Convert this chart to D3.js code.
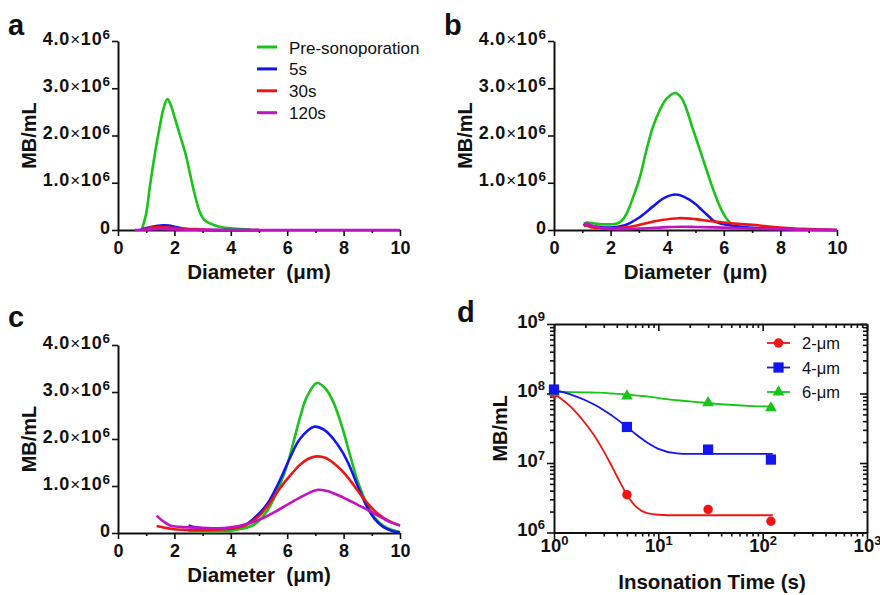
<!DOCTYPE html>
<html><head><meta charset="utf-8">
<script src="https://cdn.jsdelivr.net/npm/d3@7"></script>
<style>
body{margin:0;background:#fff;}
text{font-family:"Liberation Sans",Arial,Helvetica,sans-serif;}
</style></head><body>
<svg id="chart" width="880" height="595"></svg>
<script>
// ---------- DATA (MB/mL in units of 10^6 for panels a-c) ----------
const seriesNames = ["Pre-sonoporation", "5s", "30s", "120s"];
const yTicksDist = [0, 1, 2, 3, 4];
const xMajorTicks = [0, 2, 4, 6, 8, 10];
const xMinorTicks = [1, 3, 5, 7, 9];

// Panel a (2-µm)
const aPre = [[0.84,0],[1.0,0.35],[1.13,0.92],[1.25,1.4],[1.37,1.83],[1.5,2.25],[1.6,2.54],[1.75,2.77],[1.9,2.6],[2.0,2.4],[2.2,2.0],[2.4,1.6],[2.55,1.2],[2.7,0.8],[2.9,0.38],[3.05,0.22],[3.26,0.14],[3.6,0.07],[4.1,0.03],[4.7,0.01]];
const a5s = [[0.8,0],[1.0,0.04],[1.2,0.07],[1.4,0.09],[1.6,0.1],[1.8,0.095],[2.0,0.07],[2.3,0.03],[2.6,0.01],[3.0,0.0],[5.0,0.0]];
const a30s = [[0.9,0.0],[1.1,0.04],[1.3,0.06],[1.5,0.06],[1.8,0.05],[2.2,0.03],[2.6,0.02],[2.9,0.015],[3.2,0.0],[5.0,0.0]];
const a120s = [[0.6,0],[1.0,0.01],[1.5,0.02],[2.0,0.01],[3.0,0.005],[4.0,0.0],[10,0]];

// Panel b (4-µm)
const bPre = [[1.05,0.14],[1.2,0.16],[1.5,0.13],[2.0,0.12],[2.2,0.13],[2.4,0.2],[2.57,0.35],[2.8,0.7],[3.04,1.13],[3.25,1.65],[3.5,2.19],[3.75,2.55],[3.98,2.78],[4.28,2.9],[4.5,2.8],[4.69,2.54],[4.9,2.15],[5.16,1.69],[5.4,1.25],[5.63,0.85],[5.8,0.58],[5.98,0.35],[6.15,0.2],[6.3,0.12]];
const b5s = [[1.05,0.1],[1.2,0.1],[1.5,0.07],[2.0,0.05],[2.5,0.1],[3.0,0.26],[3.5,0.5],[3.9,0.68],[4.3,0.75],[4.6,0.7],[5.0,0.55],[5.16,0.46],[5.5,0.27],[5.63,0.2],[6.0,0.12],[6.6,0.07],[7.2,0.04],[8.0,0.02],[9.0,0.01],[10,0]];
const b30s = [[1.05,0.08],[1.15,0.1],[1.3,0.06],[1.7,0.04],[2.2,0.04],[2.8,0.08],[3.3,0.15],[3.8,0.21],[4.4,0.25],[5.0,0.23],[5.5,0.19],[6.0,0.16],[6.5,0.13],[7.0,0.11],[7.5,0.08],[8.0,0.05],[8.5,0.03],[9.0,0.02],[10,0]];
const b120s = [[1.05,0.1],[1.15,0.14],[1.3,0.1],[1.6,0.05],[2.0,0.02],[3.0,0.03],[4.0,0.06],[4.5,0.07],[5.0,0.065],[6.0,0.05],[7.0,0.03],[8.0,0.015],[9.0,0.005],[10,0]];

// Panel c (6-µm)
const cPre = [[2.5,0.05],[3.0,0.04],[3.5,0.04],[4.0,0.05],[4.4,0.09],[4.8,0.17],[5.0,0.26],[5.27,0.45],[5.5,0.7],[5.74,1.02],[6.0,1.45],[6.25,2.0],[6.45,2.45],[6.7,2.9],[7.05,3.19],[7.35,3.08],[7.64,2.78],[7.95,2.25],[8.23,1.65],[8.5,1.1],[8.82,0.62],[9.1,0.33],[9.4,0.16],[9.7,0.07],[10,0.02]];
const c5s = [[2.5,0.16],[2.6,0.14],[3.0,0.1],[3.5,0.09],[4.0,0.1],[4.5,0.17],[4.8,0.3],[5.27,0.6],[5.74,1.12],[6.1,1.6],[6.45,2.0],[6.95,2.26],[7.3,2.2],[7.64,2.0],[7.95,1.73],[8.23,1.4],[8.5,1.0],[8.82,0.57],[9.1,0.3],[9.4,0.13],[9.7,0.05],[10,0.01]];
const c30s = [[1.37,0.15],[1.6,0.12],[2.0,0.08],[2.5,0.06],[3.0,0.06],[3.5,0.07],[4.0,0.09],[4.5,0.16],[5.0,0.36],[5.27,0.55],[5.74,0.95],[6.1,1.22],[6.45,1.45],[6.75,1.58],[7.05,1.63],[7.35,1.6],[7.64,1.49],[7.95,1.32],[8.23,1.12],[8.5,0.9],[8.82,0.65],[9.1,0.47],[9.4,0.33],[9.7,0.23],[10,0.16]];
const c120s = [[1.37,0.37],[1.6,0.25],[1.85,0.16],[2.2,0.13],[3.0,0.11],[3.5,0.1],[4.0,0.12],[4.5,0.18],[5.0,0.28],[5.5,0.43],[6.0,0.6],[6.5,0.77],[7.1,0.92],[7.5,0.88],[8.0,0.75],[8.5,0.6],[8.8,0.51],[9.1,0.41],[9.4,0.31],[9.7,0.22],[10,0.16]];

// Panel d
const dNames = ["2-\u03bcm", "4-\u03bcm", "6-\u03bcm"];
const dTimes = [1, 5, 30, 120];
const d2um = [1.0e8, 3.5e6, 2.15e6, 1.45e6];
const d4um = [1.14e8, 3.3e7, 1.56e7, 1.12e7];
const d6um = [1.05e8, 9.2e7, 7.35e7, 6.2e7];
const fitTimes = [1, 1.5, 2, 2.5, 3, 3.5, 4, 5, 6, 7, 8, 10, 15, 20, 40, 80, 125];
const fit2um = [1.0e8, 6.1e7, 3.7e7, 2.33e7, 1.47e7, 9.6e6, 6.5e6, 3.5e6, 2.42e6, 2.03e6, 1.88e6, 1.8e6, 1.77e6, 1.77e6, 1.77e6, 1.77e6, 1.77e6];
const fit4um = [1.13e8, 9.5e7, 8.0e7, 6.76e7, 5.76e7, 4.95e7, 4.28e7, 3.3e7, 2.64e7, 2.21e7, 1.92e7, 1.6e7, 1.38e7, 1.354e7, 1.35e7, 1.35e7, 1.35e7];
const fit6um = [1.06e8, 1.05e8, 1.04e8, 1.03e8, 1.02e8, 1.0e8, 9.9e7, 9.7e7, 9.4e7, 9.2e7, 9.0e7, 8.6e7, 8.0e7, 7.7e7, 7.0e7, 6.6e7, 6.5e7];
const dYTicks = [1e6, 1e7, 1e8, 1e9];
const dXTicks = [1, 10, 100, 1000];

// ---------- STYLE ----------
const colGreen = "#17c417", colBlue = "#1414f0", colRed = "#f01414", colMag = "#c014c0";
const distColors = [colGreen, colBlue, colRed, colMag];

const svg = d3.select("#chart");

function supLabel(sel, base, exp, baseSize, supSize, supRaise) {
  sel.text(null);
  sel.append("tspan").attr("font-size", baseSize).text(base);
  sel.append("tspan").attr("font-size", supSize).attr("dy", -supRaise).text(exp);
}

function drawDist(box, series, letter, showLegend) {
  const g = svg.append("g");
  const x = d3.scaleLinear().domain([0, 10]).range([box.left, box.right]);
  const y = d3.scaleLinear().domain([0, 4]).range([box.bottom, box.top]);

  const xa = g.append("g").attr("transform", `translate(0,${box.bottom})`)
    .call(d3.axisBottom(x).tickValues(xMajorTicks).tickSize(6).tickPadding(5).tickSizeOuter(0));
  xa.selectAll("text").attr("font-size", 18).attr("font-weight", "bold").attr("fill", "#111");
  const xm = g.append("g").attr("transform", `translate(0,${box.bottom})`)
    .call(d3.axisBottom(x).tickValues(xMinorTicks).tickSize(3).tickFormat("").tickSizeOuter(0));
  xm.select(".domain").remove();

  const ya = g.append("g").attr("transform", `translate(${box.left},0)`)
    .call(d3.axisLeft(y).tickValues(yTicksDist).tickSize(6).tickPadding(2).tickSizeOuter(0));
  ya.selectAll("text").attr("font-weight", "bold").attr("fill", "#111").each(function(d) {
    const t = d3.select(this);
    t.text(null);
    if (d === 0) { t.append("tspan").attr("font-size", 18).text("0"); return; }
    t.append("tspan").attr("font-size", 18).attr("letter-spacing", 0.8).text(d.toFixed(1));
    t.append("tspan").attr("font-size", 17).attr("font-weight", "normal").attr("letter-spacing", 0.8).text("\u00d7");
    t.append("tspan").attr("font-size", 18).attr("letter-spacing", 0.8).text("10");
    t.append("tspan").attr("font-size", 13.5).attr("dy", -5.5).text("6");
  });
  g.selectAll(".domain").attr("stroke-width", 2).attr("stroke", "#111");
  g.selectAll(".tick line").attr("stroke-width", 1.6).attr("stroke", "#111");

  const line = d3.line().x(d => x(d[0])).y(d => y(d[1])).curve(d3.curveCatmullRom.alpha(0.5));
  series.forEach((s, i) => {
    g.append("path").attr("d", line(s)).attr("fill", "none")
      .attr("stroke", distColors[i]).attr("stroke-width", 2.6).attr("stroke-linejoin", "round");
  });

  g.append("text").attr("x", (box.left + box.right) / 2).attr("y", box.bottom + 49)
    .attr("text-anchor", "middle").attr("font-size", 20.5).attr("font-weight", "bold")
    .attr("fill", "#111").style("white-space", "pre").text("Diameter  (\u03bcm)");
  g.append("text").attr("transform", `translate(${box.left - 89},${(box.top + box.bottom) / 2}) rotate(-90)`)
    .attr("text-anchor", "middle").attr("dy", "0.36em").attr("font-size", 20).attr("font-weight", "bold")
    .attr("fill", "#111").text("MB/mL");
  g.append("text").attr("x", box.left - 110).attr("y", box.letterY).attr("font-size", 29)
    .attr("font-weight", "bold").attr("fill", "#111").text(letter);

  if (showLegend) {
    const lg = g.append("g");
    seriesNames.forEach((n, i) => {
      const yy = 47 + i * 21.9;
      lg.append("line").attr("x1", 257).attr("x2", 277).attr("y1", yy).attr("y2", yy)
        .attr("stroke", distColors[i]).attr("stroke-width", 3);
      lg.append("text").attr("x", 289).attr("y", yy + 6.5).attr("font-size", 17).attr("fill", "#111").text(n);
    });
  }
}

drawDist({left:118, right:400, top:41, bottom:230, letterY:35}, [aPre, a5s, a30s, a120s], "a", true);
drawDist({left:554, right:837, top:41, bottom:230, letterY:35}, [bPre, b5s, b30s, b120s], "b", false);
drawDist({left:118, right:400, top:345, bottom:533, letterY:327}, [cPre, c5s, c30s, c120s], "c", false);

// ---------- Panel d ----------
(function() {
  const box = {left:554, right:867, top:324, bottom:532.5};
  const g = svg.append("g");
  const x = d3.scaleLog().domain([1, 1000]).range([box.left, box.right]);
  const y = d3.scaleLog().domain([1e6, 1e9]).range([box.bottom, box.top]);
  const minorX = [], minorY = [];
  [1, 10, 100].forEach(p => { for (let k = 2; k <= 9; k++) minorX.push(p * k); });
  [1e6, 1e7, 1e8].forEach(p => { for (let k = 2; k <= 9; k++) minorY.push(p * k); });

  const ax = (axisFn, scale, vals, size, tf) => axisFn(scale).tickValues(vals).tickSize(size).tickSizeOuter(0).tickFormat(tf === undefined ? "" : tf);

  const xb = g.append("g").attr("transform", `translate(0,${box.bottom})`).call(ax(d3.axisBottom, x, dXTicks, 7, d => d).tickPadding(5));
  xb.selectAll("text").attr("font-weight", "bold").attr("fill", "#111").each(function(d) {
    supLabel(d3.select(this), "10", String(Math.round(Math.log10(d))), 18.5, 13, 7);
  });
  g.append("g").attr("transform", `translate(0,${box.bottom})`).call(ax(d3.axisBottom, x, minorX, 4)).select(".domain").remove();
  g.append("g").attr("transform", `translate(0,${box.top})`).call(ax(d3.axisBottom, x, dXTicks, 7));
  g.append("g").attr("transform", `translate(0,${box.top})`).call(ax(d3.axisBottom, x, minorX, 4)).select(".domain").remove();
  const yl = g.append("g").attr("transform", `translate(${box.left},0)`).call(ax(d3.axisLeft, y, dYTicks, 7, d => d).tickPadding(2));
  yl.selectAll("text").attr("font-weight", "bold").attr("fill", "#111").each(function(d) {
    supLabel(d3.select(this), "10", String(Math.round(Math.log10(d))), 18.5, 13, 7);
  });
  g.append("g").attr("transform", `translate(${box.left},0)`).call(ax(d3.axisLeft, y, minorY, 4)).select(".domain").remove();
  g.append("g").attr("transform", `translate(${box.right},0)`).call(ax(d3.axisLeft, y, dYTicks, 7));
  g.append("g").attr("transform", `translate(${box.right},0)`).call(ax(d3.axisLeft, y, minorY, 4)).select(".domain").remove();

  g.selectAll(".domain").attr("stroke-width", 2).attr("stroke", "#111");
  g.selectAll(".tick line").attr("stroke-width", 1.6).attr("stroke", "#111");

  const line = d3.line().x(d => x(d[0])).y(d => y(d[1])).curve(d3.curveMonotoneX);
  const sets = [
    {fit: fit2um, pts: d2um, col: colRed, sym: d3.symbolCircle, size: 70},
    {fit: fit6um, pts: d6um, col: colGreen, sym: d3.symbolTriangle, size: 60},
    {fit: fit4um, pts: d4um, col: colBlue, sym: d3.symbolSquare, size: 105}
  ];
  sets.forEach(s => {
    g.append("path").attr("d", line(fitTimes.map((t, i) => [t, s.fit[i]])))
      .attr("fill", "none").attr("stroke", s.col).attr("stroke-width", 1.8);
    g.selectAll(null).data(dTimes.map((t, i) => [t, s.pts[i]])).enter().append("path")
      .attr("d", d3.symbol().type(s.sym).size(s.size))
      .attr("transform", d => `translate(${x(d[0])},${y(d[1])})`).attr("fill", s.col);
  });

  const legCols = [colRed, colBlue, colGreen];
  const legSyms = [[d3.symbolCircle, 70], [d3.symbolSquare, 105], [d3.symbolTriangle, 60]];
  dNames.forEach((n, i) => {
    const yy = 343 + i * 24.5;
    g.append("line").attr("x1", 767).attr("x2", 790).attr("y1", yy).attr("y2", yy).attr("stroke", legCols[i]).attr("stroke-width", 1.8);
    g.append("path").attr("d", d3.symbol().type(legSyms[i][0]).size(legSyms[i][1])).attr("transform", `translate(778.5,${yy})`).attr("fill", legCols[i]);
    g.append("text").attr("x", 802).attr("y", yy + 6).attr("font-size", 16.5).attr("fill", "#111").text(n);
  });

  g.append("text").attr("x", 712).attr("y", 589).attr("text-anchor", "middle").attr("font-size", 20.5)
    .attr("font-weight", "bold").attr("fill", "#111").text("Insonation Time (s)");
  g.append("text").attr("transform", `translate(500,${(box.top + box.bottom) / 2}) rotate(-90)`)
    .attr("text-anchor", "middle").attr("dy", "0.36em").attr("font-size", 20).attr("font-weight", "bold")
    .attr("fill", "#111").text("MB/mL");
  g.append("text").attr("x", 457).attr("y", 322).attr("font-size", 29).attr("font-weight", "bold").attr("fill", "#111").text("d");
})();
</script>
</body></html>
